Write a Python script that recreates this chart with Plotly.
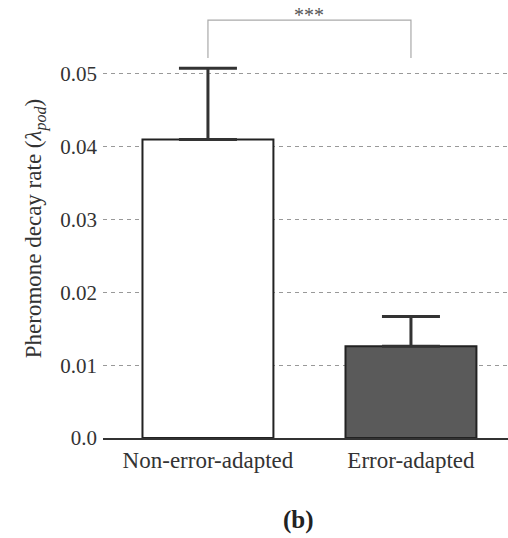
import plotly.graph_objects as go

categories = ["Non-error-adapted", "Error-adapted"]
values = [0.041, 0.0126]
errors = [0.0098, 0.0041]
bar_colors = ["#ffffff", "#5a5a5a"]
ytick_vals = [0.0, 0.01, 0.02, 0.03, 0.04, 0.05]
ytick_text = ["0.0", "0.01", "0.02", "0.03", "0.04", "0.05"]
sig_label = "***"

FONT = "'Liberation Serif', 'Times New Roman', 'DejaVu Serif', serif"

fig = go.Figure()
fig.add_trace(go.Bar(
    x=[0, 1], y=values, width=0.645,
    marker=dict(color=bar_colors, line=dict(color="#222222", width=2)),
    error_y=dict(type="data", array=errors, arrayminus=[0, 0], symmetric=False,
                 color="#333333", thickness=3, width=29),
    showlegend=False,
))

# significance bracket
ytop = 0.0574
ybot = 0.0522
fig.add_shape(type="path",
              path=f"M 0,{ybot} L 0,{ytop} L 1,{ytop} L 1,{ybot}",
              xref="x", yref="y", line=dict(color="#aaaaaa", width=1.2))
fig.add_annotation(x=0.5, y=ytop, xref="x", yref="y", text=sig_label,
                   showarrow=False, yanchor="bottom", yshift=-8,
                   font=dict(family=FONT, size=20, color="#555555"))

fig.add_annotation(x=(298 - 103) / 405, y=(438 - 520) / 419, xref="paper", yref="paper",
                   text="<b>(b)</b>", showarrow=False, yanchor="middle", xanchor="center",
                   font=dict(family=FONT, size=25, color="#222222"))

fig.update_layout(
    width=508, height=538,
    margin=dict(l=103, r=0, t=19, b=100),
    paper_bgcolor="white", plot_bgcolor="white",
    font=dict(family=FONT, size=20, color="#333333"),
    xaxis=dict(range=[-0.517, 1.478], tickvals=[0, 1], ticktext=categories,
               showgrid=False, zeroline=False, showline=True,
               linecolor="#333333", linewidth=2, ticks="", ticklabelstandoff=0,
               tickfont=dict(family=FONT, size=23, color="#333333")),
    yaxis=dict(range=[0, 0.05755], tickvals=ytick_vals, ticktext=ytick_text,
               showgrid=True, gridcolor="#999999", griddash="4px,4px", gridwidth=1,
               zeroline=False, showline=False, ticks="", ticklabelstandoff=5,
               layer="above traces",
               tickfont=dict(family=FONT, size=21, color="#333333"),
               title=dict(text="Pheromone decay rate (<i>λ<sub>pod</sub></i>)",
                          font=dict(family=FONT, size=23, color="#333333"),
                          standoff=12)),
)

fig.write_html("out.html")
